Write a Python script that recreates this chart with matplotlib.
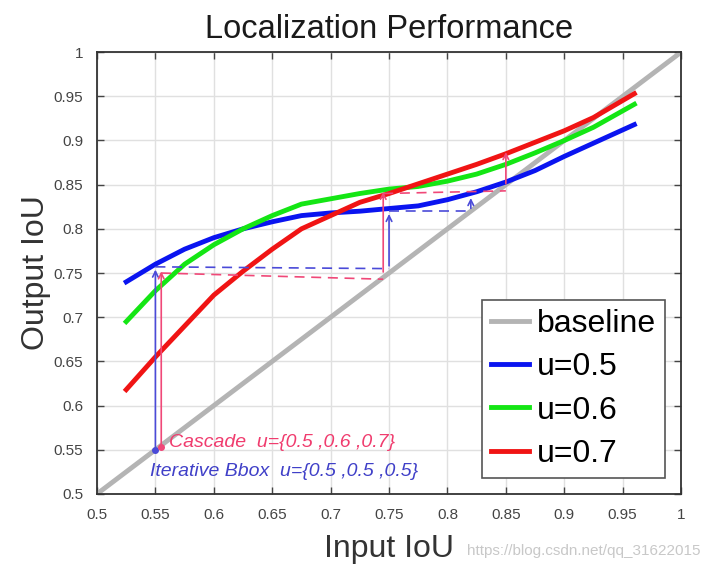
import numpy as np
import matplotlib.pyplot as plt

# === Data ===
iou_in = [0.525, 0.55, 0.575, 0.6, 0.625, 0.65, 0.675, 0.7, 0.725, 0.75,
          0.775, 0.8, 0.825, 0.85, 0.875, 0.9, 0.925, 0.96]
out_u05 = [0.740, 0.760, 0.777, 0.790, 0.800, 0.808, 0.815, 0.818, 0.820, 0.823,
           0.826, 0.833, 0.842, 0.853, 0.866, 0.882, 0.897, 0.918]
out_u06 = [0.695, 0.730, 0.760, 0.782, 0.800, 0.815, 0.828, 0.834, 0.840, 0.845,
           0.848, 0.854, 0.862, 0.873, 0.886, 0.900, 0.915, 0.941]
out_u07 = [0.618, 0.655, 0.690, 0.725, 0.752, 0.777, 0.800, 0.815, 0.830, 0.840,
           0.851, 0.862, 0.873, 0.885, 0.898, 0.911, 0.926, 0.953]

baseline = [0.5, 1.0]
ticks = [0.5, 0.55, 0.6, 0.65, 0.7, 0.75, 0.8, 0.85, 0.9, 0.95, 1.0]
tick_labels = ["0.5", "0.55", "0.6", "0.65", "0.7", "0.75", "0.8", "0.85", "0.9", "0.95", "1"]

# hand drawn refinement steps (input iou -> output iou)
iter_steps = [(0.55, 0.55, 0.757), (0.75, 0.755, 0.82), (0.82, 0.82, 0.838)]
casc_steps = [(0.555, 0.553, 0.755), (0.745, 0.748, 0.845), (0.85, 0.848, 0.89)]

plt.rcParams['font.family'] = ['Liberation Sans', 'DejaVu Sans']

fig = plt.figure(figsize=(7.08, 5.73), dpi=100)
ax = fig.add_axes([0.137, 0.138, 0.825, 0.771])

ax.plot(baseline, baseline, color="#b4b4b4", lw=3.5, label="baseline")
ax.plot(iou_in, out_u05, color="#0a14f0", lw=3.5, label="u=0.5")
ax.plot(iou_in, out_u06, color="#14e614", lw=3.5, label="u=0.6")
ax.plot(iou_in, out_u07, color="#f01414", lw=3.5, label="u=0.7")

# === hand drawn annotations ===
def draw_steps(steps, color, shift):
    ax.plot(steps[0][0], steps[0][1], 'o', color=color, ms=4)
    for i, (x, y0, y1) in enumerate(steps):
        ax.annotate("", xy=(x, y1), xytext=(x, y0),
                    arrowprops=dict(arrowstyle="->", color=color, lw=1.2))
        if i + 1 < len(steps):
            nx, ny0, _ = steps[i + 1]
            ax.plot([x, nx], [y1 + shift, ny0 + shift], '--', color=color, lw=1.2,
                    dashes=(6, 4))

draw_steps(iter_steps, "#4a4ad8", 0.0)
draw_steps(casc_steps, "#f04878", -0.005)

ax.text(0.562, 0.558, "Cascade  u={0.5 ,0.6 ,0.7}", color="#f03c6e",
        fontsize=14, style="italic", va="center")
ax.text(0.545, 0.525, "Iterative Bbox  u={0.5 ,0.5 ,0.5}", color="#4040c8",
        fontsize=14, style="italic", va="center")

ax.set_xlim(0.5, 1)
ax.set_ylim(0.5, 1)
ax.set_xticks(ticks)
ax.set_xticklabels(tick_labels)
ax.set_yticks(ticks)
ax.set_yticklabels(tick_labels)
ax.grid(True, color="#e0e0e0", lw=1.0)
ax.set_axisbelow(True)
ax.tick_params(direction="in", top=True, right=True, length=5, width=1,
               labelsize=11, colors="#444444", pad=10)
for s in ax.spines.values():
    s.set_color("#333333")
    s.set_linewidth(1.3)

ax.set_title("Localization Performance", fontsize=23.5, color="#1a1a1a", pad=10)
ax.set_xlabel("Input IoU", fontsize=23, color="#333333", labelpad=9)
ax.set_ylabel("Output IoU", fontsize=23, color="#333333", labelpad=2)

leg = ax.legend(loc="lower right", bbox_to_anchor=(0.973, 0.036), fontsize=23,
                handlelength=1.2, handletextpad=0.25, labelspacing=0.42,
                borderpad=0.28, borderaxespad=0, fancybox=False, framealpha=1,
                edgecolor="#555555")
leg.get_frame().set_linewidth(1.2)

fig.text(0.99, 0.038, "https://blog.csdn.net/qq_31622015", color="#c8c8c8",
         fontsize=11, ha="right", va="center")

fig.savefig("out.png", dpi=100)
